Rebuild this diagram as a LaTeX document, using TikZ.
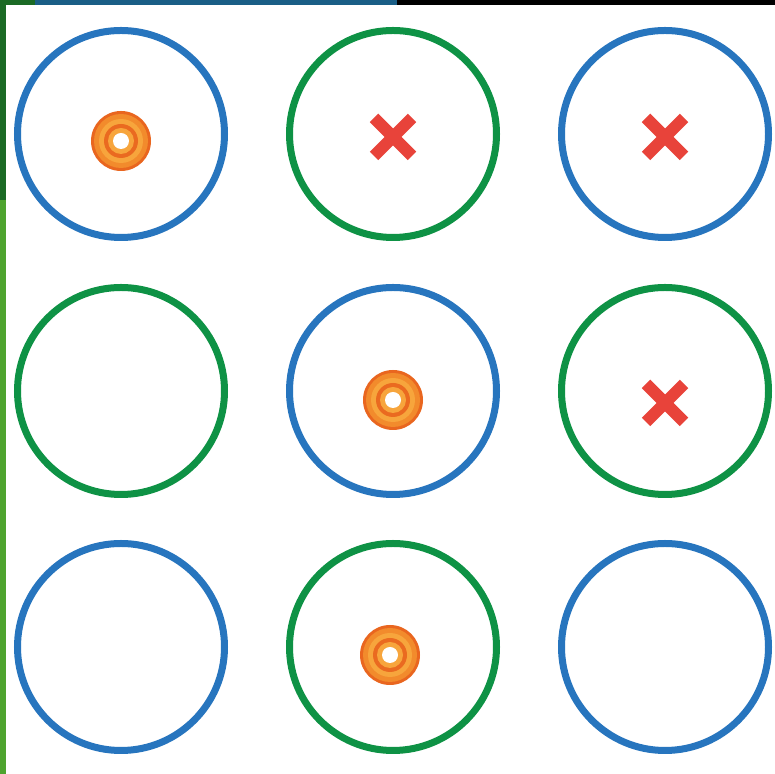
\documentclass[tikz,border=0pt]{standalone}
\usetikzlibrary{positioning,calc}
\definecolor{ringblue}{HTML}{2775BE}
\definecolor{ringgreen}{HTML}{0E9245}
\definecolor{crossred}{HTML}{E8433A}
\definecolor{tgtdark}{HTML}{E9661F}
\definecolor{tgtmid}{HTML}{F28B2C}
\definecolor{tgtlight}{HTML}{F7A53C}
\definecolor{bardark}{HTML}{1B6A25}
\definecolor{barlight}{HTML}{4EA42F}
\definecolor{barblue}{HTML}{1A5E86}
\tikzset{
  ringline/.style={draw=#1, line width=0.14cm},
  crossmark/.style={line width=0.24cm, color=crossred}}
\begin{document}
\begin{tikzpicture}
    % page and edge bars
    \useasboundingbox (0,0) rectangle (15.5,15.48);
    \fill[white] (0,0) rectangle (15.5,15.48);
    \fill[bardark] (0,11.48) rectangle (0.12,15.48);
    \fill[barlight] (0,0) rectangle (0.12,11.48);
    \fill[bardark] (0,15.38) rectangle (0.7,15.48);
    \fill[barblue] (0.7,15.38) rectangle (7.94,15.48);
    \fill[black] (7.94,15.38) rectangle (15.5,15.48);
    % the grid of rings
    \draw[ringline=ringblue]  (2.42,12.8) circle (2.07);
    \draw[ringline=ringgreen] (7.86,12.8) circle (2.07);
    \draw[ringline=ringblue]  (13.3,12.8) circle (2.07);
    \draw[ringline=ringgreen] (2.42,7.66) circle (2.07);
    \draw[ringline=ringblue]  (7.86,7.66) circle (2.07);
    \draw[ringline=ringgreen] (13.3,7.66) circle (2.07);
    \draw[ringline=ringblue]  (2.42,2.54) circle (2.07);
    \draw[ringline=ringgreen] (7.86,2.54) circle (2.07);
    \draw[ringline=ringblue]  (13.3,2.54) circle (2.07);
    % targets
    \foreach \tx/\ty in {2.42/12.66, 7.86/7.48, 7.80/2.38} {
      \fill[tgtdark] (\tx,\ty) circle (0.6);
      \fill[tgtmid] (\tx,\ty) circle (0.54);
      \fill[tgtlight] (\tx,\ty) circle (0.44);
      \fill[tgtdark!90!tgtmid] (\tx,\ty) circle (0.34);
      \fill[tgtlight] (\tx,\ty) circle (0.26);
      \fill[white] (\tx,\ty) circle (0.16);
    }
    % crosses
    \foreach \kx/\ky in {7.86/12.74, 13.3/12.74, 13.3/7.42} {
      \draw[crossmark] (\kx-0.38,\ky-0.38) -- (\kx+0.38,\ky+0.38);
      \draw[crossmark] (\kx-0.38,\ky+0.38) -- (\kx+0.38,\ky-0.38);
    }
  \end{tikzpicture}
\end{document}
